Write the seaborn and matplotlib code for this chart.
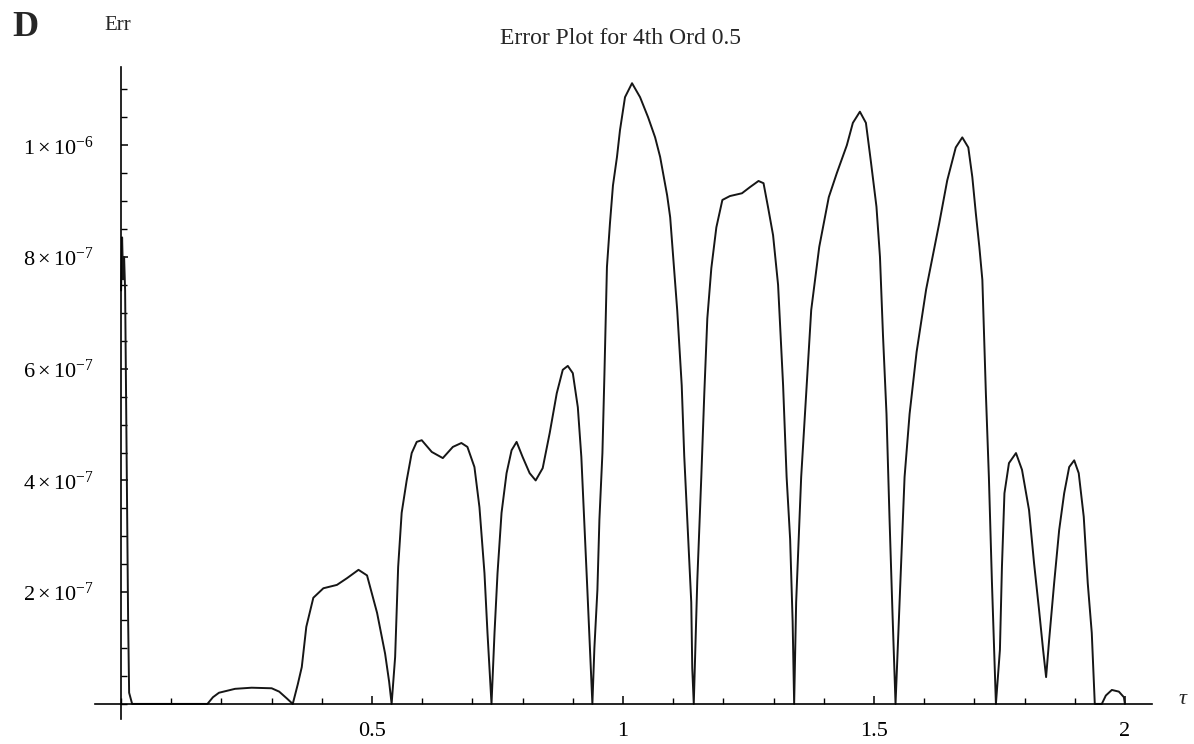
import numpy as np
import pandas as pd
import matplotlib
matplotlib.use("Agg")
import matplotlib.pyplot as plt
import seaborn as sns
from matplotlib.ticker import FixedLocator, FixedFormatter, MultipleLocator

# Error curve of the 4th-order scheme: tau values and error (in units of 1e-7)
TAU = [
    0.000, 0.002, 0.004, 0.006, 0.008, 0.010, 0.012, 0.014, 0.016, 0.022,
    0.172, 0.183, 0.195, 0.227, 0.260, 0.300, 0.315, 0.330, 0.342,
    0.352, 0.360, 0.369, 0.383, 0.403, 0.430, 0.450, 0.473, 0.490, 0.510,
    0.526, 0.534, 0.539,
    0.546, 0.552, 0.559, 0.569, 0.579, 0.589, 0.599, 0.619, 0.641, 0.661,
    0.678, 0.690, 0.704, 0.714, 0.724, 0.730, 0.738,
    0.744, 0.750, 0.758, 0.768, 0.778, 0.788, 0.800, 0.814, 0.826, 0.840,
    0.854, 0.868, 0.880, 0.890, 0.900, 0.910, 0.917, 0.923, 0.929, 0.935,
    0.939,
    0.943, 0.949, 0.953, 0.959, 0.963, 0.968, 0.974, 0.980, 0.988, 0.994,
    1.004, 1.018, 1.034, 1.050, 1.064, 1.074, 1.088, 1.094, 1.100, 1.108,
    1.117, 1.122, 1.128, 1.136, 1.138, 1.141,
    1.148, 1.156, 1.162, 1.168, 1.176, 1.186, 1.198, 1.213, 1.237, 1.253,
    1.270, 1.280, 1.289, 1.299, 1.309, 1.319, 1.326, 1.333, 1.338, 1.341,
    1.345, 1.355, 1.365, 1.375, 1.391, 1.410, 1.426, 1.446, 1.458, 1.472,
    1.484, 1.494, 1.505, 1.512, 1.518, 1.525, 1.531, 1.537, 1.543,
    1.551, 1.561, 1.571, 1.585, 1.604, 1.630, 1.646, 1.663, 1.676, 1.688,
    1.696, 1.703, 1.710, 1.716, 1.723, 1.729, 1.735, 1.739, 1.743,
    1.751, 1.755, 1.760, 1.769, 1.783, 1.795, 1.809, 1.819, 1.829, 1.837,
    1.843, 1.849, 1.859, 1.869, 1.879, 1.889, 1.899, 1.908, 1.918, 1.926,
    1.934, 1.940, 1.954, 1.962, 1.974, 1.988, 1.998, 2.000,
]
ERR_E7 = [
    7.40, 8.35, 7.60, 8.00, 7.40, 5.50, 3.50, 1.50, 0.20, 0.00,
    0.00, 0.12, 0.20, 0.27, 0.29, 0.28, 0.22, 0.10, 0.00,
    0.35, 0.66, 1.38, 1.90, 2.07, 2.13, 2.25, 2.40, 2.30, 1.63,
    0.90, 0.40, 0.00,
    0.84, 2.45, 3.42, 4.00, 4.49, 4.69, 4.72, 4.51, 4.40, 4.60,
    4.67, 4.60, 4.24, 3.52, 2.34, 1.27, 0.00,
    1.27, 2.34, 3.42, 4.13, 4.54, 4.69, 4.42, 4.13, 4.00, 4.22,
    4.85, 5.56, 5.98, 6.05, 5.92, 5.31, 4.42, 3.24, 2.04, 0.80,
    0.00,
    1.00, 2.04, 3.30, 4.49, 5.90, 7.82, 8.60, 9.28, 9.79, 10.27,
    10.86, 11.11, 10.86, 10.50, 10.14, 9.79, 9.10, 8.71, 8.00, 7.05,
    5.70, 4.44, 3.33, 1.82, 0.64, 0.00,
    2.20, 4.06, 5.56, 6.90, 7.80, 8.53, 9.02, 9.09, 9.14, 9.25,
    9.36, 9.32, 8.89, 8.39, 7.50, 5.70, 4.06, 2.95, 1.47, 0.00,
    1.82, 4.06, 5.56, 7.05, 8.18, 9.07, 9.50, 10.00, 10.40, 10.60,
    10.40, 9.70, 8.90, 8.00, 6.60, 5.19, 3.33, 1.61, 0.00,
    1.82, 4.06, 5.19, 6.30, 7.42, 8.60, 9.37, 9.96, 10.14, 9.96,
    9.43, 8.78, 8.18, 7.59, 5.56, 4.06, 2.20, 1.09, 0.00,
    0.97, 2.45, 3.77, 4.31, 4.49, 4.19, 3.47, 2.52, 1.68, 0.97,
    0.48, 1.14, 2.16, 3.11, 3.77, 4.24, 4.36, 4.13, 3.35, 2.16,
    1.27, 0.00, 0.00, 0.15, 0.25, 0.22, 0.12, 0.00,
]

X_TICKS = [0.5, 1.0, 1.5, 2.0]
X_TICK_LABELS = ["0.5", "1", "1.5", "2"]
Y_TICKS = [2e-7, 4e-7, 6e-7, 8e-7, 1e-6]
Y_TICK_LABELS = [r"$2\times 10^{-7}$", r"$4\times 10^{-7}$", r"$6\times 10^{-7}$",
                 r"$8\times 10^{-7}$", r"$1\times 10^{-6}$"]

TITLE = "Error Plot for 4th Ord 0.5"
Y_NAME = "Err"
X_NAME = "τ"
PANEL = "D"

sns.set_theme(style="white")
plt.rcParams["font.family"] = ["Liberation Serif", "DejaVu Serif"]
plt.rcParams["mathtext.fontset"] = "custom"
plt.rcParams["mathtext.rm"] = "Liberation Serif"
plt.rcParams["mathtext.it"] = "Liberation Serif:italic"
plt.rcParams["mathtext.bf"] = "Liberation Serif:bold"

df = pd.DataFrame({"tau": TAU, "err": np.array(ERR_E7) * 1e-7})

W, H = 1194, 744
fig = plt.figure(figsize=(W / 100, H / 100), dpi=100)
fig.patch.set_facecolor("white")
ax = fig.add_axes([95 / W, 25 / H, 1057 / W, 652 / H])
ax.set_facecolor("white")

sns.lineplot(data=df, x="tau", y="err", ax=ax, color="#161616", linewidth=1.4,
             estimator=None, sort=False)

ax.set_xlim(-0.052, 2.054)
ax.set_ylim(-2.7e-8, 1.14e-6)
ax.set_xlabel("")
ax.set_ylabel("")

# axes crossing at the origin
for side in ("top", "right"):
    ax.spines[side].set_visible(False)
ax.spines["left"].set_position(("data", 0))
ax.spines["bottom"].set_position(("data", 0))
for side in ("left", "bottom"):
    ax.spines[side].set_color("black")
    ax.spines[side].set_linewidth(1.2)

ax.xaxis.set_major_locator(FixedLocator(X_TICKS))
ax.xaxis.set_major_formatter(FixedFormatter(X_TICK_LABELS))
ax.xaxis.set_minor_locator(MultipleLocator(0.1))
ax.yaxis.set_major_locator(FixedLocator(Y_TICKS))
ax.yaxis.set_major_formatter(FixedFormatter(Y_TICK_LABELS))
ax.yaxis.set_minor_locator(MultipleLocator(5e-8))

ax.tick_params(axis="x", which="major", direction="in", length=6, width=1.1,
               pad=13, labelsize=16, colors="black", bottom=True)
ax.tick_params(axis="x", which="minor", direction="in", length=4.5, width=1.0,
               colors="black", bottom=True)
ax.tick_params(axis="y", which="major", direction="in", length=5, width=1.1,
               pad=20, labelsize=16, colors="black", left=True)
ax.tick_params(axis="y", which="minor", direction="in", length=4, width=1.0,
               colors="black", left=True)

fig.text(621 / W, 1 - 38 / H, TITLE, ha="center", va="center", fontsize=17)
fig.text(118 / W, 1 - 25 / H, Y_NAME, ha="center", va="center", fontsize=15)
fig.text(25 / W, 1 - 28 / H, PANEL, ha="center", va="center", fontsize=26,
         fontweight="bold")
fig.text(1183 / W, 1 - 700 / H, X_NAME, ha="center", va="center", fontsize=16,
         style="italic")

fig.savefig("out.png", dpi=100, facecolor="white")
